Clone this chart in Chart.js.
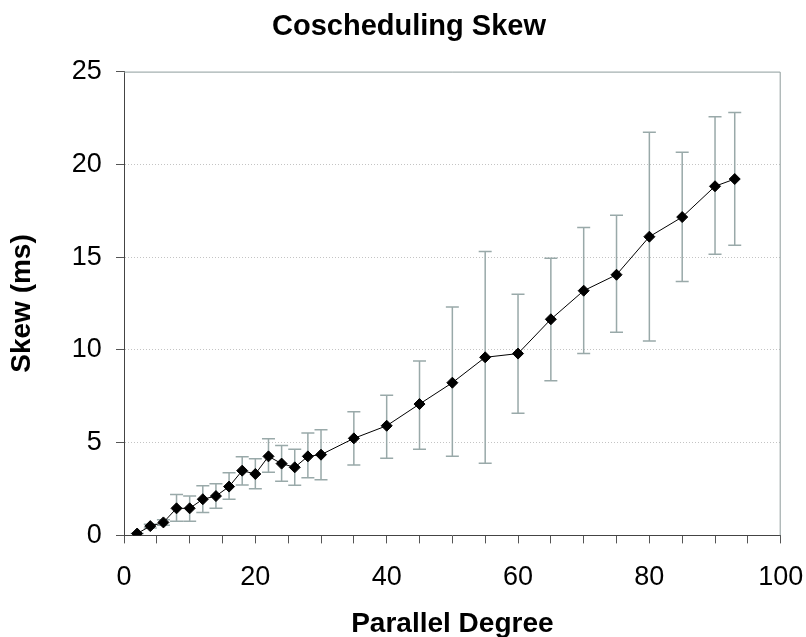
<!DOCTYPE html>
<html>
<head>
<meta charset="utf-8">
<title>Coscheduling Skew</title>
<script src="https://cdn.jsdelivr.net/npm/chart.js@4.4.1/dist/chart.umd.min.js"></script>
<style>
    html, body { margin: 0; padding: 0; background: #fff; }
    canvas { display: block; }
</style>
</head>
<body>
<canvas id="skewChart" width="806" height="637"></canvas>
<script>
// values
const parallelDegree = [2, 4, 6, 8, 10, 12, 14, 16, 18, 20, 22, 24, 26, 28, 30, 35, 40, 45, 50, 55, 60, 65, 70, 75, 80, 85, 90, 93];
const skewMs = [0.1, 0.5, 0.7, 1.46, 1.46, 1.95, 2.12, 2.63, 3.49, 3.31, 4.26, 3.87, 3.67, 4.26, 4.35, 5.23, 5.91, 7.08, 8.23, 9.6, 9.8, 11.65, 13.19, 14.05, 16.1, 17.16, 18.82, 19.21];
const skewHigh = [0.1, 0.6, 0.85, 2.2, 2.12, 2.68, 2.79, 3.38, 4.24, 4.13, 5.21, 4.84, 4.64, 5.52, 5.7, 6.67, 7.55, 9.4, 12.31, 15.3, 13.0, 14.94, 16.59, 17.26, 21.73, 20.65, 22.57, 22.79];
const skewLow = [0.1, 0.4, 0.55, 0.76, 0.76, 1.24, 1.46, 1.95, 2.72, 2.52, 3.4, 2.92, 2.7, 3.11, 3.0, 3.8, 4.16, 4.64, 4.26, 3.89, 6.58, 8.34, 9.8, 10.95, 10.48, 13.68, 15.15, 15.64];
const xTickLabels = [0, 20, 40, 60, 80, 100];

const fontFamily = "'Liberation Sans', Arial, Helvetica, sans-serif";

// error bars drawn under the line, from the chart's own scales
const errorBars = {
    id: 'errorBars',
    beforeDatasetsDraw: function (chart) {
        const ctx = chart.ctx,
            x = chart.scales.x,
            y = chart.scales.y,
            cap = 6.5;
        ctx.save();
        ctx.strokeStyle = '#99a9a9';
        ctx.lineWidth = 1.5;
        for (let i = 0; i < parallelDegree.length; i++) {
            const px = x.getPixelForValue(parallelDegree[i]);
            const top = y.getPixelForValue(skewHigh[i]);
            const bottom = y.getPixelForValue(skewLow[i]);
            ctx.beginPath();
            ctx.moveTo(px, top);
            ctx.lineTo(px, bottom);
            ctx.moveTo(px - cap, top);
            ctx.lineTo(px + cap, top);
            ctx.moveTo(px - cap, bottom);
            ctx.lineTo(px + cap, bottom);
            ctx.stroke();
        }
        ctx.restore();
    }
};

// grey frame on the top and right of the plot area
const plotFrame = {
    id: 'plotFrame',
    afterDraw: function (chart) {
        const ctx = chart.ctx,
            a = chart.chartArea;
        ctx.save();
        ctx.strokeStyle = '#8e9c9c';
        ctx.lineWidth = 1;
        ctx.beginPath();
        ctx.moveTo(a.left, a.top + 0.5);
        ctx.lineTo(a.right - 0.5, a.top + 0.5);
        ctx.lineTo(a.right - 0.5, a.bottom);
        ctx.stroke();
        ctx.restore();
    }
};

function renderChart() {
    const ctx = document.getElementById('skewChart').getContext('2d');
    const points = parallelDegree.map(function (d, i) {
        return { x: d, y: skewMs[i] };
    });

    new Chart(ctx, {
        type: 'line',
        data: {
            datasets: [{
                label: 'Skew',
                data: points,
                borderColor: '#000',
                borderWidth: 1,
                pointStyle: 'rectRot',
                pointRadius: 5.5,
                pointBackgroundColor: '#000',
                pointBorderColor: '#000',
                pointBorderWidth: 1,
                fill: false,
                tension: 0
            }]
        },
        options: {
            responsive: false,
            animation: false,
            devicePixelRatio: 1,
            layout: {
                padding: { left: 12, right: 0, top: 0, bottom: 0 }
            },
            plugins: {
                legend: { display: false },
                tooltip: { enabled: false },
                title: {
                    display: true,
                    text: 'Coscheduling Skew',
                    color: '#000',
                    font: { family: fontFamily, size: 29, weight: 'bold', lineHeight: 1 },
                    padding: { top: 12.2, bottom: 30.4 }
                }
            },
            scales: {
                x: {
                    type: 'linear',
                    min: 0,
                    max: 100,
                    afterFit: function (scale) {
                        scale.height = 101.6;
                        scale.paddingLeft = 0;
                        scale.paddingRight = 25.3;
                    },
                    ticks: {
                        stepSize: 5,
                        autoSkip: false,
                        maxRotation: 0,
                        padding: 18,
                        color: '#000',
                        font: { family: fontFamily, size: 27 },
                        callback: function (v) {
                            return xTickLabels.indexOf(v) >= 0 ? String(v) : '';
                        }
                    },
                    grid: {
                        drawOnChartArea: false,
                        drawTicks: true,
                        tickLength: 8,
                        tickColor: '#555',
                        tickWidth: 1
                    },
                    border: { display: true, color: '#444', width: 1 },
                    title: {
                        display: true,
                        text: 'Parallel Degree',
                        color: '#000',
                        font: { family: fontFamily, size: 28, weight: 'bold', lineHeight: 0.9 },
                        padding: { top: 0, bottom: 0 }
                    }
                },
                y: {
                    min: 0,
                    max: 25,
                    afterFit: function (scale) {
                        scale.width = 112;
                        scale.paddingTop = 0;
                        scale.paddingBottom = 0;
                    },
                    ticks: {
                        stepSize: 5,
                        padding: 14.3,
                        color: '#000',
                        font: { family: fontFamily, size: 27 }
                    },
                    grid: {
                        color: function (c) {
                            return (c.tick && (c.tick.value === 0 || c.tick.value === 25)) ? 'rgba(0,0,0,0)' : '#c4c4c4';
                        },
                        lineWidth: 1,
                        tickLength: 8,
                        tickColor: '#555',
                        tickWidth: 1,
                        tickBorderDash: []
                    },
                    border: { display: true, color: '#444', width: 1, dash: [1, 2] },
                    title: {
                        display: true,
                        text: 'Skew (ms)',
                        color: '#000',
                        font: { family: fontFamily, size: 28, weight: 'bold', lineHeight: 0.72 },
                        padding: { top: 0, bottom: 0 }
                    }
                }
            }
        },
        plugins: [errorBars, plotFrame]
    });
}

renderChart();
</script>
</body>
</html>
